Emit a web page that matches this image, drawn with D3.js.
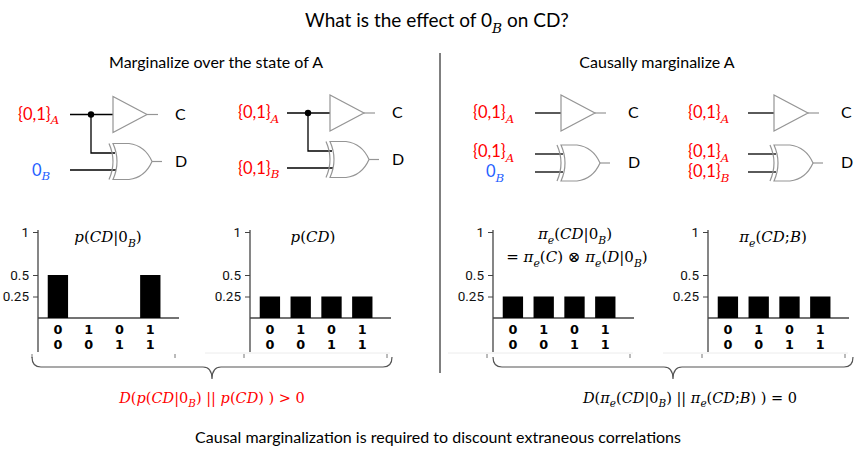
<!DOCTYPE html>
<html>
<head>
<meta charset="utf-8">
<script src="https://cdn.jsdelivr.net/npm/d3@7"></script>
<style>
  body { margin: 0; background: #fff; }
  svg { display: block; }
</style>
</head>
<body>
<div id="chart"></div>
<script>
const WIDTH = 863;
const HEIGHT = 460;

// data
const stateC = ["0", "1", "0", "1"];
const stateD = ["0", "0", "1", "1"];
const states = ["00", "10", "01", "11"];
const pCond = [0.5, 0, 0, 0.5];        // p(CD|0B)
const pMarg = [0.25, 0.25, 0.25, 0.25]; // p(CD)
const piCond = [0.25, 0.25, 0.25, 0.25]; // pi_e(CD|0B)
const piB = [0.25, 0.25, 0.25, 0.25];    // pi_e(CD;B)
const tickVals = [0.25, 0.5, 1];
const tickLabels = ["0.25", "0.5", "1"];

const RED = "#ff0000";
const BLUE = "#1f5fff";
const GATE = "#959595";
const SANS = "Lato, 'Open Sans', sans-serif";
const SERIF = "'DejaVu Serif', serif";

let svg = d3.select("#chart")
    .append("svg")
    .attr("width", WIDTH)
    .attr("height", HEIGHT);

// text with mixed math styles
function mtext(sel, x, y, parts, size, color, anchor) {
    let t = sel.append("text")
        .attr("x", x)
        .attr("y", y)
        .attr("fill", color || "#000")
        .attr("text-anchor", anchor || "start")
        .style("font-size", size + "px");
    let low = false;
    parts.forEach(([txt, st]) => {
        let ts = t.append("tspan").text(txt);
        let isSub = st === "sub";
        if (isSub && !low) { ts.attr("dy", size * 0.3); low = true; }
        else if (!isSub && low) { ts.attr("dy", -size * 0.3); low = false; }
        if (st === "lab") {
            ts.style("font-family", SANS);
        } else {
            ts.style("font-family", SERIF);
            if (st !== "m") ts.style("font-style", "italic");
            if (isSub) ts.style("font-size", (size * 0.72) + "px");
        }
    });
    return t;
}

// headings
mtext(svg, 437, 27, [["What is the effect of ", "lab"], ["0", "lab"], ["B", "sub"], [" on CD?", "lab"]], 19, "#000", "middle");
mtext(svg, 216, 68, [["Marginalize over the state of A", "lab"]], 16, "#000", "middle");
mtext(svg, 657, 68, [["Causally marginalize A", "lab"]], 16, "#000", "middle");

svg.append("line")
    .attr("x1", 440).attr("x2", 440)
    .attr("y1", 53).attr("y2", 373)
    .attr("stroke", "#000").attr("stroke-width", 1);

// ---------- circuits ----------
function buffer(g, gx, yc) {
    g.append("path")
        .attr("d", `M${gx},${yc - 18}L${gx},${yc + 18}L${gx + 34},${yc}Z`)
        .attr("fill", "#fff").attr("stroke", GATE).attr("stroke-width", 1.2);
    g.append("line")
        .attr("x1", gx + 34).attr("x2", gx + 45)
        .attr("y1", yc).attr("y2", yc)
        .attr("stroke", GATE).attr("stroke-width", 1.2);
}

function xor(g, gx, yd) {
    g.append("path")
        .attr("d", `M${gx},${yd - 18}L${gx + 16},${yd - 18}Q${gx + 32},${yd - 16} ${gx + 39},${yd}` +
                   `Q${gx + 32},${yd + 16} ${gx + 16},${yd + 18}L${gx},${yd + 18}Q${gx + 8},${yd} ${gx},${yd - 18}Z`)
        .attr("fill", "#fff").attr("stroke", GATE).attr("stroke-width", 1.2);
    g.append("path")
        .attr("d", `M${gx - 4},${yd - 18}Q${gx + 4},${yd} ${gx - 4},${yd + 18}`)
        .attr("fill", "none").attr("stroke", GATE).attr("stroke-width", 1.2);
    g.append("line")
        .attr("x1", gx + 39).attr("x2", gx + 49)
        .attr("y1", yd).attr("y2", yd)
        .attr("stroke", GATE).attr("stroke-width", 1.2);
}

function wire(g, pts) {
    g.append("path")
        .attr("d", d3.line()(pts))
        .attr("fill", "none").attr("stroke", "#000").attr("stroke-width", 1.3);
}

const A_LAB = [["{0,1}", "lab"], ["A", "sub"]];
const B_LAB = [["{0,1}", "lab"], ["B", "sub"]];
const ZERO_B = [["0", "lab"], ["B", "sub"]];

// circuits with a shared A (left panel)
function sharedCircuit(gx, yc, yd, lx, bottomLab, bottomColor, bottomX) {
    let g = svg.append("g");
    wire(g, [[gx - 43, yc], [gx, yc]]);
    wire(g, [[gx - 22, yc], [gx - 22, yd - 8.5], [gx + 2, yd - 8.5]]);
    wire(g, [[gx - 43, yd + 8.5], [gx + 3, yd + 8.5]]);
    buffer(g, gx, yc);
    xor(g, gx, yd);
    g.append("circle").attr("cx", gx - 22).attr("cy", yc).attr("r", 3.2).attr("fill", "#000");
    mtext(g, lx, yc + 5, A_LAB, 16.5, RED);
    mtext(g, bottomX, yd + 14, bottomLab, 16.5, bottomColor);
    mtext(g, gx + 62, yc + 5, [["C", "lab"]], 16, "#000");
    mtext(g, gx + 62, yd + 5, [["D", "lab"]], 16, "#000");
}

// circuits with separate A inputs (right panel)
function splitCircuit(gx, yc, yd, lx, bottomLab, bottomColor, bottomX) {
    let g = svg.append("g");
    wire(g, [[gx - 26, yc], [gx, yc]]);
    wire(g, [[gx - 26, yd - 9], [gx + 2, yd - 9]]);
    wire(g, [[gx - 26, yd + 9], [gx + 2, yd + 9]]);
    buffer(g, gx, yc);
    xor(g, gx, yd);
    mtext(g, lx, yc + 5, A_LAB, 16.5, RED);
    mtext(g, lx, yd - 6, A_LAB, 16.5, RED);
    mtext(g, bottomX, yd + 14, bottomLab, 16.5, bottomColor);
    mtext(g, gx + 67, yc + 5, [["C", "lab"]], 16, "#000");
    mtext(g, gx + 67, yd + 5, [["D", "lab"]], 16, "#000");
}

sharedCircuit(113, 114.5, 161.5, 18, ZERO_B, BLUE, 32);
sharedCircuit(330, 113, 159.5, 238, B_LAB, RED, 238);
splitCircuit(561, 113, 163, 473, ZERO_B, BLUE, 486);
splitCircuit(774, 113, 163, 688, B_LAB, RED, 688);

// ---------- bar charts ----------
let y = d3.scaleLinear().domain([0, 1]).range([318, 232]);

const charts = [
    { ax: 38, values: pCond, title: [[["p", "mi"], ["(", "m"], ["CD", "mi"], ["|0", "m"], ["B", "sub"], [")", "m"]]], tx: 108, frame: false },
    { ax: 250, values: pMarg, title: [[["p", "mi"], ["(", "m"], ["CD", "mi"], [")", "m"]]], tx: 313, frame: true },
    { ax: 493, values: piCond, title: [
        [["π", "mi"], ["e", "sub"], ["(", "m"], ["CD", "mi"], ["|0", "m"], ["B", "sub"], [")", "m"]],
        [["= ", "m"], ["π", "mi"], ["e", "sub"], ["(", "m"], ["C", "mi"], [") ⊗ ", "m"], ["π", "mi"], ["e", "sub"], ["(", "m"], ["D", "mi"], ["|0", "m"], ["B", "sub"], [")", "m"]]
      ], tx: 575, frame: true },
    { ax: 708, values: piB, title: [[["π", "mi"], ["e", "sub"], ["(", "m"], ["CD", "mi"], [";", "m"], ["B", "mi"], [")", "m"]]], tx: 773, frame: true }
];

charts.forEach(c => {
    let g = svg.append("g");

    if (c.frame) {
        g.append("line")
            .attr("x1", c.ax - 45).attr("x2", c.ax + 140)
            .attr("y1", 353).attr("y2", 353)
            .attr("stroke", "#ececec");
    }
    g.append("line")
        .attr("x1", c.ax - 6).attr("x2", c.ax - 6)
        .attr("y1", 354).attr("y2", 358)
        .attr("stroke", "#777");
    g.append("line")
        .attr("x1", c.ax + 137).attr("x2", c.ax + 137)
        .attr("y1", 354).attr("y2", 358)
        .attr("stroke", "#777");

    let x = d3.scaleBand()
        .domain(states)
        .range([c.ax + 4.5, c.ax + 4.5 + 4 * 30.8])
        .paddingInner(0.34)
        .paddingOuter(0.17);

    let axis = d3.axisLeft(y)
        .tickValues(tickVals)
        .tickFormat((d, i) => tickLabels[i])
        .tickSize(5)
        .tickSizeOuter(0)
        .tickPadding(4);

    let ag = g.append("g")
        .attr("transform", `translate(${c.ax},0)`)
        .call(axis);
    ag.select(".domain").remove();
    ag.selectAll(".tick line").attr("stroke", "#444");
    ag.selectAll(".tick text")
        .style("font-family", "Roboto, sans-serif")
        .style("font-size", "13.5px")
        .attr("fill", "#111");

    g.append("line")
        .attr("x1", c.ax).attr("x2", c.ax)
        .attr("y1", 230).attr("y2", 352)
        .attr("stroke", "#444").attr("stroke-width", 1.3);
    g.append("line")
        .attr("x1", c.ax).attr("x2", c.ax + 141)
        .attr("y1", y(0)).attr("y2", y(0))
        .attr("stroke", "#444").attr("stroke-width", 1.3);

    g.selectAll("rect.bar")
        .data(c.values)
        .enter()
        .append("rect")
        .attr("class", "bar")
        .attr("x", (d, i) => x(states[i]))
        .attr("y", d => y(d))
        .attr("width", x.bandwidth())
        .attr("height", d => y(0) - y(d))
        .attr("fill", "#000");

    // state labels: C on top, D below
    [stateC, stateD].forEach((row, r) => {
        g.selectAll(null)
            .data(row)
            .enter()
            .append("text")
            .attr("x", (d, i) => x(states[i]) + x.bandwidth() / 2)
            .attr("y", 333.5 + r * 15)
            .attr("text-anchor", "middle")
            .style("font-family", "'DejaVu Sans', sans-serif")
            .style("font-weight", "bold")
            .style("font-size", "12.8px")
            .text(d => d);
    });

    let base = c.title.length > 1 ? 239 : 242;
    c.title.forEach((line, k) => {
        mtext(g, c.tx + (k ? 2 : 0), base + k * 23, line, 15, "#000", "middle");
    });
});

// ---------- braces ----------
function brace(x1, x2, top) {
    let mid = (x1 + x2) / 2;
    let h = top + 10;
    svg.append("path")
        .attr("d", `M${x1},${top}Q${x1},${h} ${x1 + 9},${h}L${mid - 9},${h}Q${mid},${h} ${mid},${h + 12}` +
                   `M${mid},${h + 12}Q${mid},${h} ${mid + 9},${h}L${x2 - 9},${h}Q${x2},${h} ${x2},${top}`)
        .attr("fill", "none").attr("stroke", "#555").attr("stroke-width", 1.2);
}
brace(32, 392, 357);
brace(493, 853, 357);

mtext(svg, 212, 403, [["D", "mi"], ["(", "m"], ["p", "mi"], ["(", "m"], ["CD", "mi"], ["|0", "m"], ["B", "sub"], [") || ", "m"],
    ["p", "mi"], ["(", "m"], ["CD", "mi"], [") ) > 0", "m"]], 14.5, RED, "middle");
mtext(svg, 690, 403, [["D", "mi"], ["(", "m"], ["π", "mi"], ["e", "sub"], ["(", "m"], ["CD", "mi"], ["|0", "m"], ["B", "sub"], [") || ", "m"],
    ["π", "mi"], ["e", "sub"], ["(", "m"], ["CD", "mi"], [";", "m"], ["B", "mi"], [") ) = 0", "m"]], 14.5, "#000", "middle");

mtext(svg, 438, 443, [["Causal marginalization is required to discount extraneous correlations", "lab"]], 16, "#000", "middle");
</script>
</body>
</html>
